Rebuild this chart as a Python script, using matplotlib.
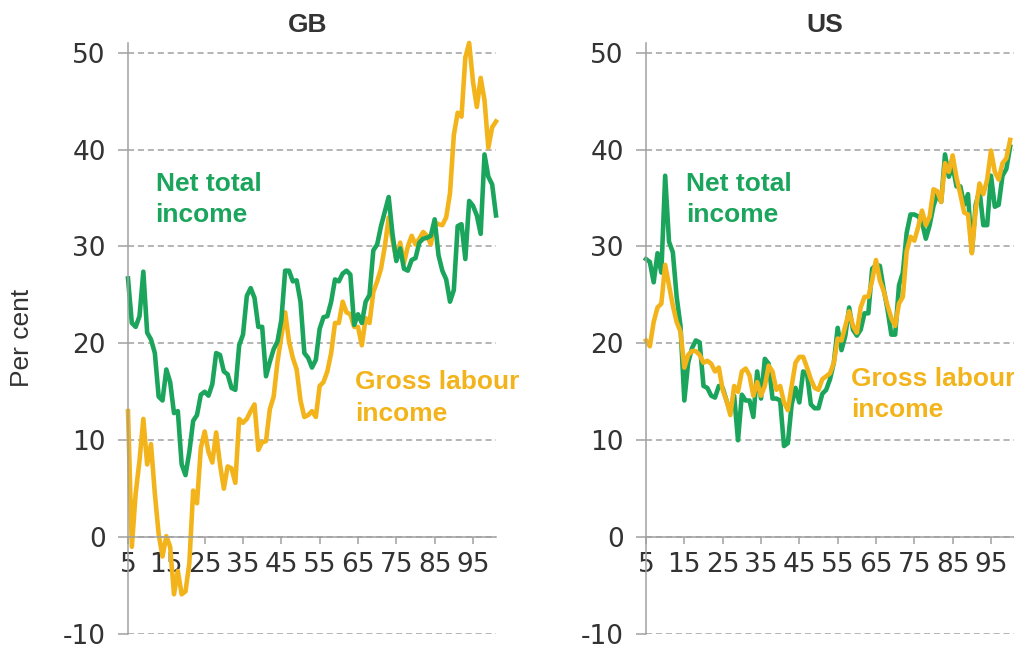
import numpy as np
import matplotlib.pyplot as plt

plt.rcParams['font.family'] = ['Liberation Sans', 'DejaVu Sans']
plt.rcParams['axes.unicode_minus'] = False

GREEN = '#1ba55c'
ORANGE = '#f3b41b'
GREY = '#a0a0a0'
TEXT = '#333333'

years = np.arange(1905, 2002)

# GB, per cent
gb_net = [26.7, 22.1, 21.7, 22.8, 27.4, 21.1, 20.4, 19.0, 14.5, 14.1,
          17.3, 16.0, 12.8, 13.0, 7.5, 6.4, 8.8, 12.0, 12.6, 14.7,
          15.0, 14.6, 15.8, 19.0, 18.8, 17.1, 16.8, 15.4, 15.2, 19.8,
          20.9, 24.9, 25.7, 24.7, 21.7, 21.7, 16.6, 18.1, 19.4, 20.2,
          22.4, 27.5, 27.5, 26.4, 26.5, 24.3, 19.0, 18.5, 17.5, 18.3,
          21.5, 22.7, 22.8, 24.3, 26.6, 26.4, 27.2, 27.5, 27.1, 21.9,
          23.0, 22.1, 24.3, 25.0, 29.6, 30.2, 32.1, 33.6, 35.1, 31.3,
          28.5, 29.8, 27.7, 27.5, 28.6, 28.8, 30.4, 30.8, 30.9, 31.1,
          32.8, 29.1, 27.5, 26.6, 24.3, 25.5, 32.1, 32.3, 28.7, 34.7,
          34.2, 33.2, 31.3, 39.5, 37.2, 36.4, 33.2]
gb_gross = [13.0, -1.0, 4.5, 7.9, 12.2, 7.5, 9.6, 4.5, 0.3, -2.0,
            0.1, -1.0, -5.9, -3.5, -5.9, -5.6, -2.7, 4.8, 3.5, 9.2,
            10.9, 8.8, 7.7, 10.8, 7.5, 5.0, 7.3, 7.1, 5.6, 12.2,
            11.8, 12.2, 13.0, 13.7, 9.0, 9.8, 9.9, 13.2, 14.5, 18.1,
            20.7, 23.2, 20.2, 18.5, 17.3, 14.1, 12.4, 12.6, 13.0, 12.4,
            15.6, 16.0, 17.1, 19.0, 22.1, 22.1, 24.3, 23.2, 23.0, 21.7,
            21.7, 19.8, 22.6, 22.1, 25.3, 26.4, 27.7, 30.0, 33.0, 30.6,
            28.7, 30.4, 28.3, 30.0, 31.1, 30.2, 30.8, 31.5, 31.1, 30.2,
            32.5, 32.3, 32.2, 33.0, 35.5, 41.5, 43.8, 43.4, 49.5, 51.0,
            47.0, 44.4, 47.4, 45.1, 40.2, 42.3, 42.9]

# US, per cent (to 2000)
us_net = [28.7, 28.4, 26.3, 29.3, 27.3, 37.3, 30.5, 29.4, 24.8, 21.8,
          14.1, 18.0, 19.5, 20.3, 20.1, 15.6, 15.4, 14.6, 14.4, 15.6,
          15.4, 14.1, 12.9, 14.6, 10.0, 14.7, 14.1, 14.1, 12.4, 17.1,
          14.3, 18.4, 17.9, 14.3, 14.3, 14.1, 9.4, 9.7, 13.7, 15.4,
          13.9, 17.1, 16.9, 13.7, 13.3, 13.3, 14.8, 15.2, 16.3, 18.0,
          21.6, 19.3, 20.8, 23.7, 21.4, 20.8, 21.4, 23.1, 23.1, 27.7,
          28.1, 28.0, 25.6, 23.5, 20.9, 20.9, 26.0, 27.3, 31.4, 33.3,
          33.3, 33.1, 32.5, 30.8, 32.2, 34.2, 35.4, 34.6, 39.5, 37.2,
          38.3, 36.2, 36.2, 34.3, 35.4, 29.4, 34.3, 35.8, 32.2, 32.2,
          37.3, 34.1, 34.3, 37.3, 38.0, 40.3]
us_gross = [20.3, 19.7, 22.2, 23.7, 24.1, 28.1, 26.0, 23.9, 22.2, 21.2,
            17.5, 18.8, 19.2, 19.2, 18.8, 18.0, 18.2, 17.9, 17.1, 17.5,
            15.2, 14.1, 12.6, 15.6, 15.0, 17.1, 17.4, 16.7, 14.6, 16.0,
            14.6, 15.6, 17.7, 17.1, 15.2, 15.6, 13.9, 13.1, 15.6, 18.0,
            18.6, 18.6, 17.5, 16.3, 15.4, 15.2, 16.3, 16.6, 16.9, 18.0,
            20.5, 20.3, 21.8, 23.3, 21.8, 21.1, 23.7, 24.8, 24.8, 26.5,
            28.6, 26.5, 25.4, 23.9, 22.6, 21.8, 24.1, 24.8, 29.5, 31.0,
            30.6, 32.0, 33.7, 32.2, 33.1, 35.9, 35.7, 34.6, 38.6, 37.7,
            39.4, 37.1, 35.4, 33.5, 33.3, 29.3, 33.7, 36.5, 35.4, 36.9,
            39.9, 37.7, 36.9, 38.6, 39.1, 41.0]

xticks = np.arange(1905, 2000, 10)
xlabels = [str(y % 100) for y in xticks]
yticks = np.arange(-10, 51, 10)

fig = plt.figure(figsize=(10.14, 6.48), dpi=100)
ax_gb = fig.add_axes([128 / 1014, 14 / 648, 368 / 1014, 591 / 648])
ax_us = fig.add_axes([646 / 1014, 14 / 648, 368 / 1014, 591 / 648])


def style(ax, title):
    ax.set_xlim(1905, 2001)
    ax.set_ylim(-10, 51)
    for s in ['top', 'right']:
        ax.spines[s].set_visible(False)
    ax.spines['bottom'].set_position(('data', 0))
    for s in ['left', 'bottom']:
        ax.spines[s].set_color(GREY)
        ax.spines[s].set_linewidth(1.1)
    ax.set_yticks(yticks)
    ax.set_xticks(xticks)
    ax.set_xticklabels(xlabels)
    ax.tick_params(axis='y', length=7, width=1.1, color=GREY, pad=9,
                   labelcolor=TEXT)
    ax.tick_params(axis='x', length=5, width=1.1, color=GREY, pad=6,
                   labelcolor=TEXT)
    for t in ax.get_xticklabels() + ax.get_yticklabels():
        t.set_fontfamily('DejaVu Sans')
        t.set_fontsize(19)
    ax.grid(axis='y', color=GREY, linewidth=1.1, dashes=(4, 2.5))
    ax.set_axisbelow(True)
    ax.set_title(title, fontsize=19, fontweight='bold', color=TEXT, pad=8, x=0.487)


style(ax_gb, 'GB')
style(ax_us, 'US')

ax_gb.plot(years, gb_gross, color=ORANGE, lw=3.3, clip_on=False, solid_joinstyle='round')
ax_gb.plot(years, gb_net, color=GREEN, lw=3.3, clip_on=False, solid_joinstyle='round')
ax_us.plot(years[:len(us_net)], us_net, color=GREEN, lw=3.3, clip_on=False, solid_joinstyle='round')
ax_us.plot(years[:len(us_gross)], us_gross, color=ORANGE, lw=3.3, clip_on=False, solid_joinstyle='round')

lab = dict(fontsize=19, fontweight='bold', va='top', ha='left', linespacing=1.38)
ax_gb.text(1912.2, 37.7, 'Net total\nincome', color=GREEN, **lab)
ax_gb.text(1964.3, 17.2, 'Gross labour\nincome', color=ORANGE, **lab)
ax_us.text(1915.4, 37.7, 'Net total\nincome', color=GREEN, **lab)
ax_us.text(1958.5, 17.6, 'Gross labour\nincome', color=ORANGE, **lab)

fig.text(22 / 1014, 1 - 338 / 648, 'Per cent', rotation=90, fontsize=19,
         color=TEXT, ha='center', va='center')

fig.savefig('out.png', dpi=100)
